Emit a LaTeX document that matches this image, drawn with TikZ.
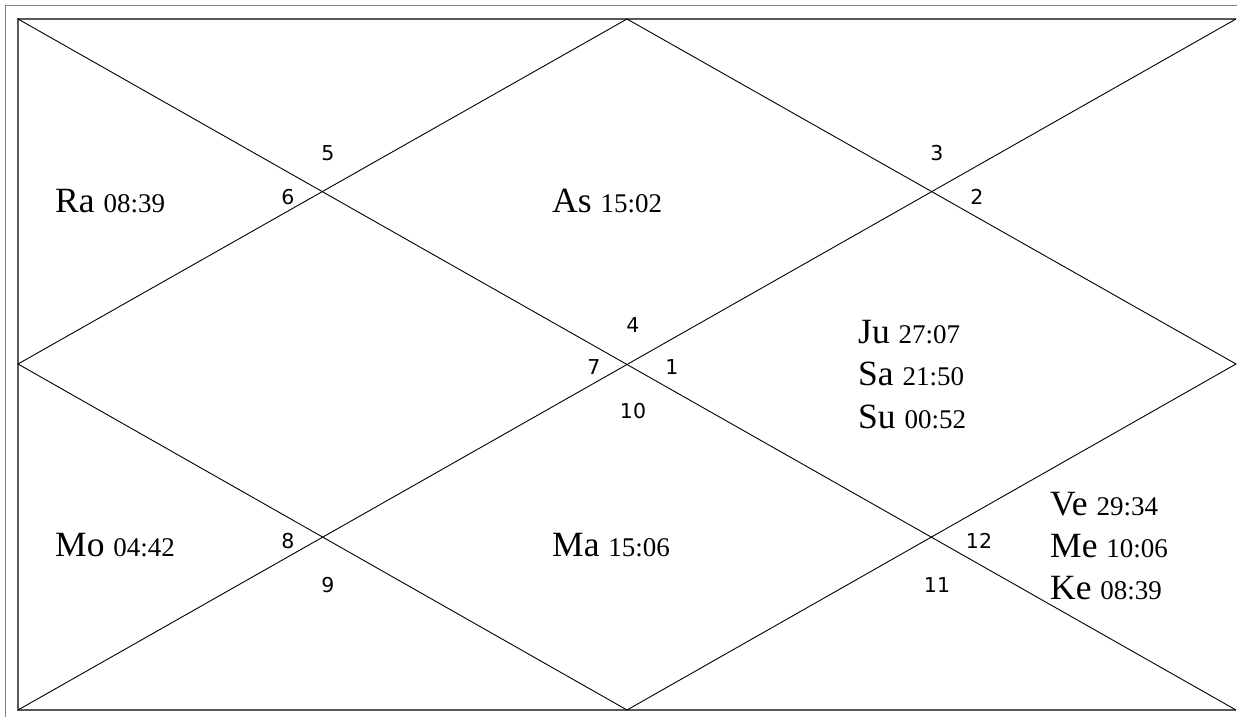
\documentclass[tikz,border=0pt]{standalone}
\usepackage{fontspec}
\setmainfont{Liberation Serif}
\newfontfamily\numfont{DejaVu Sans}
\newcommand{\degtxt}[1]{{\fontsize{27}{30}\selectfont #1}}
\begin{document}
\begin{tikzpicture}[x=1pt,y=-1pt,
  frameline/.style={draw=black!50,line width=1.6pt},
  boxline/.style={draw=black!65,line width=1.6pt},
  chartline/.style={draw=black,line width=0.9pt},
  planet/.style={anchor=base west,inner sep=0pt,font=\fontsize{35.5}{38}\selectfont},
  house/.style={anchor=center,inner sep=0pt,font=\numfont\fontsize{20.5}{24}\selectfont}]
\useasboundingbox (0,0) rectangle (1237,717);
% frame and box corners
\coordinate (fTL) at (5.5,5.5);
\coordinate (fTR) at (1240,5.5);
\coordinate (fBL) at (5.5,720);
\coordinate (TL) at (18,19);
\coordinate (TR) at (1236,19);
\coordinate (BL) at (18,710);
\coordinate (BR) at (1236,710);
\coordinate (T) at (627,19);
\coordinate (B) at (627,710);
\coordinate (L) at (18,364);
\coordinate (R) at (1236,364);
\draw[frameline] (fBL) -- (fTL) -- (fTR);
\draw[boxline] (BR) -- (BL) -- (TL) -- (TR);
\draw[chartline] (TL) -- (BR);
\draw[chartline] (TR) -- (BL);
\draw[chartline] (T) -- (L) -- (B) -- (R) -- cycle;
% house numbers
\node[house] (h5) at (328,153) {5};
\node[house] (h6) at (288,197) {6};
\node[house] (h3) at (937,153) {3};
\node[house] (h2) at (977,197) {2};
\node[house] (h4) at (633,325) {4};
\node[house] (h7) at (594,367) {7};
\node[house] (h1) at (672,367) {1};
\node[house] (h10) at (633,411) {10};
\node[house] (h8) at (288,541) {8};
\node[house] (h9) at (328,585) {9};
\node[house] (h12) at (979,541) {12};
\node[house] (h11) at (937,585) {11};
% planets
\node[planet] (ra) at (55,212) {Ra \degtxt{08:39}};
\node[planet] (as) at (552,212) {As \degtxt{15:02}};
\node[planet] (ju) at (858,343) {Ju \degtxt{27:07}};
\node[planet] (sa) at (858,385.5) {Sa \degtxt{21:50}};
\node[planet] (su) at (858,428) {Su \degtxt{00:52}};
\node[planet] (mo) at (55,556) {Mo \degtxt{04:42}};
\node[planet] (ma) at (552,556) {Ma \degtxt{15:06}};
\node[planet] (ve) at (1050,515) {Ve \degtxt{29:34}};
\node[planet] (me) at (1050,557) {Me \degtxt{10:06}};
\node[planet] (ke) at (1050,599) {Ke \degtxt{08:39}};
\end{tikzpicture}
\end{document}
